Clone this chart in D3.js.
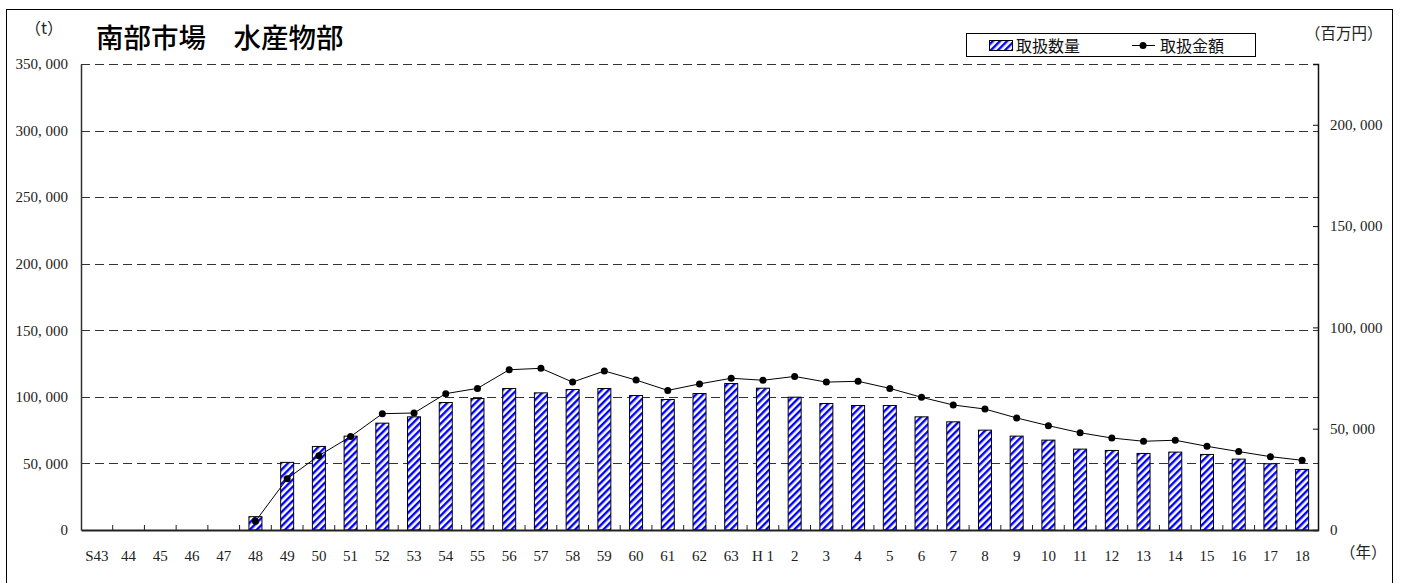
<!DOCTYPE html>
<html><head><meta charset="utf-8">
<script src="https://cdn.jsdelivr.net/npm/d3@7"></script>
<style>body{margin:0;background:#fff}svg{display:block}</style>
</head><body>
<svg id="c" width="1401" height="583"></svg>
<script>
const categories = ["S43","44","45","46","47","48","49","50","51","52","53","54","55","56","57","58","59","60","61","62","63","H 1","2","3","4","5","6","7","8","9","10","11","12","13","14","15","16","17","18"];
const volume = [null,null,null,null,null,10000,50800,62750,70500,80250,85000,95750,98750,106250,103000,105500,106250,101000,98000,102500,110000,106500,99750,95000,93500,93500,85000,81250,75000,70500,67500,60750,59750,57500,58500,56750,53250,49750,45500];
const amount = [null,null,null,null,null,4300,25300,36700,46100,57400,57750,67300,69900,79100,79800,73000,78500,74000,68900,72100,74900,73900,75800,73000,73400,69900,65500,61700,59700,55300,51500,48000,45400,43800,44300,41300,38700,36200,34400];
const leftTicks = [0,50000,100000,150000,200000,250000,300000,350000];
const rightTicks = [0,50000,100000,150000,200000];
const title = "南部市場　水産物部";
const seriesNames = ["取扱数量","取扱金額"];

const svg = d3.select("#c");
const L = 81, R = 1318, T = 64, B = 530;
const x = d3.scaleBand().domain(categories).range([L, R]).padding(0);
const yL = d3.scaleLinear().domain([0, 350000]).range([B, T]);
const yR = d3.scaleLinear().domain([0, 230000]).range([B, T]);
const fmt = v => d3.format(",")(v).replace(/,/g, ", ");
const numFont = "'Liberation Serif', serif";
const cjk = "'Noto Sans CJK JP', sans-serif";

const defs = svg.append("defs");
const pat = defs.append("pattern").attr("id","hatch").attr("patternUnits","userSpaceOnUse")
  .attr("width",5).attr("height",5).attr("patternTransform","rotate(45)");
pat.append("rect").attr("width",5).attr("height",5).attr("fill","#fff");
pat.append("rect").attr("x",0).attr("y",0).attr("width",2.4).attr("height",5).attr("fill","#0000ff");

// outer border
svg.append("rect").attr("x",6.5).attr("y",9.5).attr("width",1386).attr("height",600)
  .attr("fill","none").attr("stroke","#000").attr("stroke-width",1);

// gridlines
svg.append("g").selectAll("line").data(leftTicks.filter(d=>d>0)).join("line")
  .attr("x1",L).attr("x2",R).attr("y1",d=>Math.round(yL(d))+0.5).attr("y2",d=>Math.round(yL(d))+0.5)
  .attr("stroke","#333").attr("stroke-width",1).attr("stroke-dasharray","9,5");

// left axis
const gl = svg.append("g").attr("transform",`translate(${L},0)`)
  .call(d3.axisLeft(yL).tickValues(leftTicks).tickFormat(fmt).tickSize(0).tickPadding(13));
gl.select(".domain").attr("stroke","#333").attr("stroke-width",1.5);
gl.selectAll("text").attr("font-family",numFont).attr("font-size",15).attr("fill","#222");

// right axis
const gr = svg.append("g").attr("transform",`translate(${R},0)`)
  .call(d3.axisRight(yR).tickValues(rightTicks).tickFormat(fmt).tickSize(-5).tickPadding(12));
gr.select(".domain").attr("stroke","#111").attr("stroke-width",1.5);
gr.selectAll("line").attr("stroke","#111");
gr.selectAll("text").attr("font-family",numFont).attr("font-size",15).attr("fill","#222");

// bars
const bw = 13;
svg.append("g").selectAll("rect").data(categories.map((c,i)=>({c,v:volume[i]})).filter(d=>d.v!=null)).join("rect")
  .attr("x",d=>x(d.c)+x.bandwidth()/2-bw/2).attr("width",bw)
  .attr("y",d=>yL(d.v)).attr("height",d=>B-yL(d.v))
  .attr("fill","url(#hatch)").attr("stroke","#000").attr("stroke-width",1);

// bottom axis
const gb = svg.append("g").attr("transform",`translate(0,${B})`)
  .call(d3.axisBottom(x).tickSize(0).tickPadding(20));
gb.select(".domain").attr("stroke","#222").attr("stroke-width",2);
gb.selectAll("text").attr("font-family",numFont).attr("font-size",15).attr("fill","#222").style("white-space","pre");
svg.append("g").selectAll("line").data(categories.slice(1)).join("line")
  .attr("x1",d=>x(d)).attr("x2",d=>x(d)).attr("y1",B).attr("y2",B-5)
  .attr("stroke","#222").attr("stroke-width",1);

// line
const pts = categories.map((c,i)=>({c,v:amount[i]})).filter(d=>d.v!=null);
svg.append("path").datum(pts)
  .attr("d", d3.line().x(d=>x(d.c)+x.bandwidth()/2).y(d=>yR(d.v)))
  .attr("fill","none").attr("stroke","#000").attr("stroke-width",1);
svg.append("g").selectAll("circle").data(pts).join("circle")
  .attr("cx",d=>x(d.c)+x.bandwidth()/2).attr("cy",d=>yR(d.v)).attr("r",3.5).attr("fill","#000");

// texts
svg.append("text").attr("x",96).attr("y",48).attr("font-family",cjk).attr("font-size",27.5).attr("font-weight",500).attr("fill","#000").text(title);
svg.append("text").attr("x",25).attr("y",34).attr("font-family",cjk).attr("font-size",16).attr("fill","#222").text("（t）");
svg.append("text").attr("x",1305).attr("y",39).attr("font-family",cjk).attr("font-size",15.5).attr("fill","#222").text("（百万円）");
svg.append("text").attr("x",1340).attr("y",558).attr("font-family",cjk).attr("font-size",15.5).attr("fill","#222").text("（年）");

// legend
const lg = svg.append("g");
lg.append("rect").attr("x",966.5).attr("y",33.5).attr("width",289).attr("height",23).attr("fill","#fff").attr("stroke","#000").attr("stroke-width",1);
lg.append("rect").attr("x",989.5).attr("y",40.5).attr("width",23).attr("height",10).attr("fill","url(#hatch)").attr("stroke","#000").attr("stroke-width",1);
lg.append("text").attr("x",1016).attr("y",52).attr("font-family",cjk).attr("font-size",16).attr("fill","#111").text(seriesNames[0]);
lg.append("line").attr("x1",1132).attr("x2",1155).attr("y1",45.5).attr("y2",45.5).attr("stroke","#000");
lg.append("circle").attr("cx",1143).attr("cy",45.5).attr("r",3.5).attr("fill","#000");
lg.append("text").attr("x",1160).attr("y",52).attr("font-family",cjk).attr("font-size",16).attr("fill","#111").text(seriesNames[1]);
</script>
</body></html>
